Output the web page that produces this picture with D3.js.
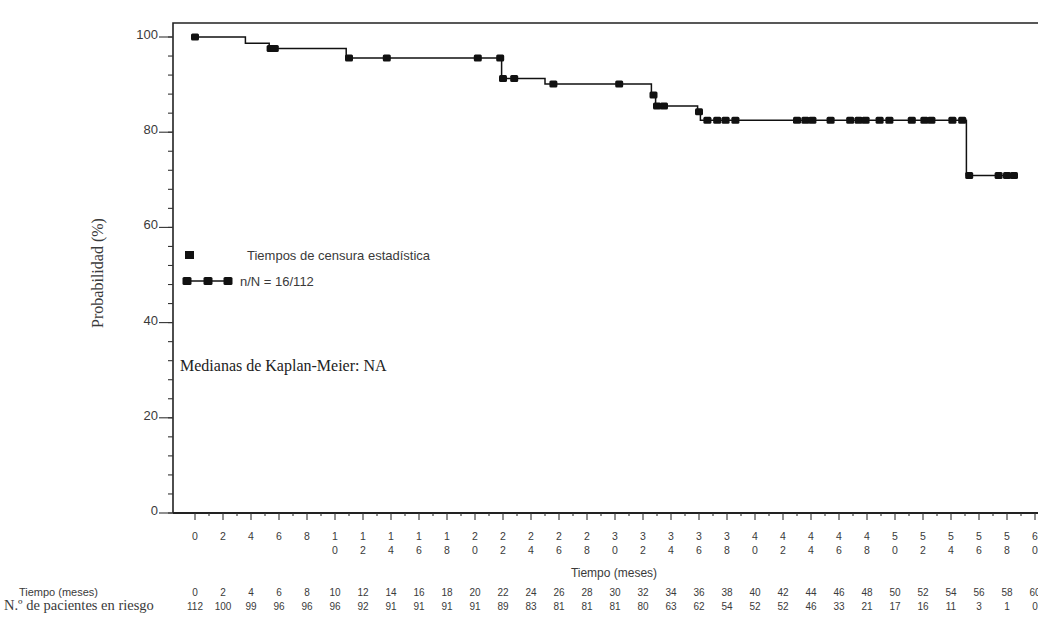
<!DOCTYPE html>
<html>
<head>
<meta charset="utf-8">
<script src="https://cdn.jsdelivr.net/npm/d3@7"></script>
<style>
  html, body { margin: 0; padding: 0; background: #fff; }
  svg { display: block; }
</style>
</head>
<body>
<svg id="chart" width="1038" height="617"></svg>
<script>
// ---- data ----
const tickMonths = d3.range(0, 61, 2);
const atRisk = [112,100,99,96,96,96,92,91,91,91,91,89,83,81,81,81,80,63,62,54,52,52,46,33,21,17,16,11,3,1,0];
const yTicks = [0, 20, 40, 60, 80, 100];
const stepTimes = [0, 3.6, 5.3, 10.8, 21.9, 25.0, 32.6, 32.9, 35.9, 36.1, 55.1];
const stepSurv  = [100, 98.7, 97.6, 95.6, 91.3, 90.1, 87.8, 85.5, 84.3, 82.5, 70.9];
const lastTime = 58.7;
const censorTimes = [0, 5.4, 5.7, 11.0, 13.7, 20.2, 21.8, 22.0, 22.8, 25.6, 30.3, 32.75, 33.0, 33.5,
  36.0, 36.6, 37.3, 37.9, 38.6, 43.0, 43.6, 44.1, 45.4, 46.8, 47.4, 47.9, 48.9, 49.6, 51.2, 52.1, 52.6,
  54.1, 54.8, 55.3, 57.4, 58.0, 58.5];
const legendText1 = "Tiempos de censura estadística";
const legendText2 = "n/N = 16/112";
const medianText = "Medianas de Kaplan-Meier: NA";
const yTitle = "Probabilidad (%)";
const xTitle = "Tiempo (meses)";
const rowLabel1 = "Tiempo (meses)";
const rowLabel2 = "N.º de pacientes en riesgo";

// ---- layout ----
const svg = d3.select("#chart");
const x = d3.scaleLinear().domain([0, 60]).range([195, 1035]);
const y = d3.scaleLinear().domain([0, 100]).range([513, 37]);
const axisLeftX = 173, frameTop = 23, axisBottomY = 513;
const ink = "#111", txt = "#3a3a3a";
const sans = "'Liberation Sans', Arial, sans-serif";
const serif = "'Liberation Serif', 'Times New Roman', serif";

// frame
svg.append("path")
  .attr("d", `M${axisLeftX},${axisBottomY} V${frameTop} H1038`)
  .attr("fill", "none").attr("stroke", "#222").attr("stroke-width", 1.6);
svg.append("line").attr("x1", axisLeftX).attr("x2", 1038)
  .attr("y1", axisBottomY).attr("y2", axisBottomY)
  .attr("stroke", "#222").attr("stroke-width", 1.8);

// y axis ticks
const yMinor = d3.range(0, 101, 4);
svg.append("g").selectAll("line").data(yMinor).join("line")
  .attr("x1", axisLeftX - 5).attr("x2", axisLeftX)
  .attr("y1", d => y(d)).attr("y2", d => y(d))
  .attr("stroke", "#333").attr("stroke-width", 1.1);
svg.append("g").selectAll("line").data(yTicks).join("line")
  .attr("x1", axisLeftX - 14).attr("x2", axisLeftX)
  .attr("y1", d => y(d)).attr("y2", d => y(d))
  .attr("stroke", "#333").attr("stroke-width", 1.1);
svg.append("g").selectAll("text").data(yTicks).join("text")
  .attr("x", axisLeftX - 15).attr("y", d => y(d) + 2)
  .attr("text-anchor", "end")
  .attr("font-family", sans).attr("font-size", 13).attr("fill", txt)
  .text(d => d);

// x axis ticks
const xMinor = d3.range(1, 61, 2);
svg.append("g").selectAll("line").data(xMinor).join("line")
  .attr("x1", d => x(d)).attr("x2", d => x(d))
  .attr("y1", axisBottomY).attr("y2", axisBottomY + 3)
  .attr("stroke", "#333").attr("stroke-width", 1.1);
svg.append("g").selectAll("line").data(tickMonths).join("line")
  .attr("x1", d => x(d)).attr("x2", d => x(d))
  .attr("y1", axisBottomY).attr("y2", axisBottomY + 7)
  .attr("stroke", "#333").attr("stroke-width", 1.1);
const xl = svg.append("g").selectAll("text").data(tickMonths).join("text")
  .attr("text-anchor", "middle")
  .attr("font-family", sans).attr("font-size", 10.5).attr("fill", txt);
xl.each(function(d) {
  const s = String(d);
  const t = d3.select(this);
  s.split("").forEach((ch, i) => {
    t.append("tspan").attr("x", x(d)).attr("y", 540 + i * 14).text(ch);
  });
});

svg.append("text").attr("x", 614).attr("y", 577)
  .attr("text-anchor", "middle").attr("font-family", sans).attr("font-size", 12).attr("fill", txt)
  .text(xTitle);

// y title
svg.append("text")
  .attr("transform", `translate(103,273) rotate(-90)`)
  .attr("text-anchor", "middle").attr("font-family", serif).attr("font-size", 16).attr("fill", txt)
  .text(yTitle);

// at-risk table
svg.append("text").attr("x", 98).attr("y", 596).attr("text-anchor", "end")
  .attr("font-family", sans).attr("font-size", 11).attr("fill", txt).text(rowLabel1);
svg.append("text").attr("x", 4).attr("y", 610)
  .attr("font-family", serif).attr("font-size", 14.5).attr("fill", txt).text(rowLabel2);
svg.append("g").selectAll("text").data(tickMonths).join("text")
  .attr("x", d => x(d)).attr("y", 596).attr("text-anchor", "middle")
  .attr("font-family", sans).attr("font-size", 10).attr("fill", txt).text(d => d);
svg.append("g").selectAll("text").data(atRisk).join("text")
  .attr("x", (d, i) => x(tickMonths[i])).attr("y", 610).attr("text-anchor", "middle")
  .attr("font-family", sans).attr("font-size", 10).attr("fill", txt).text(d => d);

// KM step curve
const pts = stepTimes.map((t, i) => [t, stepSurv[i]]);
pts.push([lastTime, stepSurv[stepSurv.length - 1]]);
const line = d3.line().x(d => x(d[0])).y(d => y(d[1])).curve(d3.curveStepAfter);
svg.append("path").datum(pts).attr("d", line)
  .attr("fill", "none").attr("stroke", ink).attr("stroke-width", 1.5);

function survAt(t) {
  let s = stepSurv[0];
  for (let i = 0; i < stepTimes.length; i++) if (stepTimes[i] <= t) s = stepSurv[i];
  return s;
}
const mw = 8, mh = 7;
svg.append("g").selectAll("rect").data(censorTimes).join("rect")
  .attr("x", d => x(d) - mw / 2).attr("y", d => y(survAt(d)) - mh / 2)
  .attr("width", mw).attr("height", mh).attr("rx", 1.5)
  .attr("fill", ink);

// legend
svg.append("rect").attr("x", 185).attr("y", 251).attr("width", 9).attr("height", 8).attr("fill", ink);
svg.append("text").attr("x", 247).attr("y", 260)
  .attr("font-family", sans).attr("font-size", 13).attr("fill", txt).text(legendText1);
svg.append("line").attr("x1", 183).attr("x2", 232).attr("y1", 281).attr("y2", 281)
  .attr("stroke", ink).attr("stroke-width", 1.5);
svg.append("g").selectAll("rect").data([187, 208, 228]).join("rect")
  .attr("x", d => d - 4.5).attr("y", 277).attr("width", 9).attr("height", 8).attr("rx", 1.5).attr("fill", ink);
svg.append("text").attr("x", 240).attr("y", 286)
  .attr("font-family", sans).attr("font-size", 13).attr("fill", txt).text(legendText2);

svg.append("text").attr("x", 180).attr("y", 371)
  .attr("font-family", serif).attr("font-size", 16).attr("fill", "#222").text(medianText);
</script>
</body>
</html>
